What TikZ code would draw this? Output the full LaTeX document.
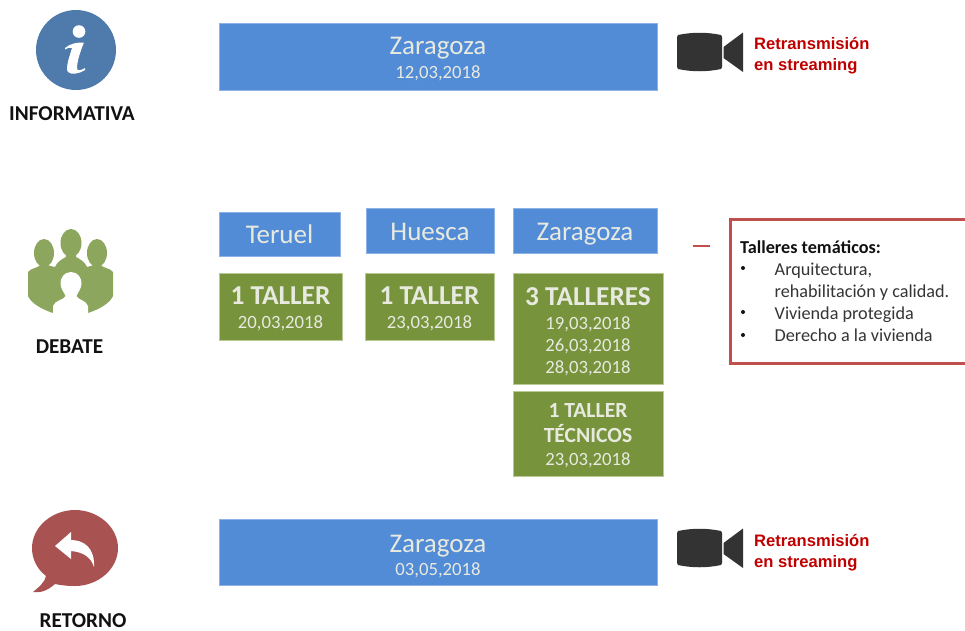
\documentclass[tikz,border=0pt]{standalone}
\usepackage{fontspec}
\setmainfont{Carlito}
\newfontfamily\armoFont{Liberation Sans}
\definecolor{boxblue}{HTML}{528BD6}
\definecolor{boxgreen}{HTML}{77933C}
\definecolor{blueedge}{HTML}{8DB3E6}
\definecolor{greenedge}{HTML}{B9C994}
\definecolor{infoblue}{HTML}{4F7BAC}
\definecolor{debgreen}{HTML}{8CA65E}
\definecolor{retred}{HTML}{A85252}
\definecolor{framered}{HTML}{C0504D}
\definecolor{camgrey}{HTML}{333333}
\definecolor{strred}{HTML}{C00000}
\definecolor{lab}{HTML}{111111}
\definecolor{boxtext}{HTML}{E8EAE0}
\newcommand{\boxfont}{\fontsize{18.7}{22}\selectfont\lineskiplimit -100pt\relax}
\tikzset{
 x=1pt,y=-1pt,
 bx/.style={anchor=north west,inner sep=0pt,outer sep=0pt,align=center,text=boxtext,line width=0.7pt,
   font=\boxfont},
 bluebox/.style={bx,fill=boxblue,draw=blueedge},
 greenbox/.style={bx,fill=boxgreen,draw=greenedge},
 catlabel/.style={font=\bfseries\fontsize{21.2}{24}\selectfont,text=lab,inner sep=0pt},
 streamlabel/.style={font=\armoFont\bfseries\fontsize{16.6}{21}\selectfont,text=strred,align=left,anchor=west,inner sep=0pt},
 dashmark/.style={draw=framered,line width=2.6pt},
}
\newcommand{\bigt}[1]{{\fontsize{27}{27}\selectfont #1}}
\newcommand{\smt}[1]{#1}
\newcommand{\hdt}[1]{{\fontsize{27.3}{27}\selectfont\bfseries #1}}
\newcommand{\hdm}[1]{{\fontsize{21.6}{25}\selectfont\bfseries #1}}
\newcommand{\pad}[1]{\rule{0pt}{#1pt}}
\newcommand{\camera}[2]{%
 \begin{scope}[shift={(#1,#2)}]
  \fill[camgrey] (0,3) .. controls (14,0) and (29,0) .. (43,3) -- (44,5) -- (44,35) -- (43,37) .. controls (29,40) and (14,40) .. (0,37) -- (-1,35) -- (-1,5) -- cycle;
  \fill[camgrey] (45.5,15) -- (65,0.5) -- (65,40) -- (45.5,26) -- cycle;
 \end{scope}}
\begin{document}
\begin{tikzpicture}
\useasboundingbox (0,0) rectangle (965,630);
\fill[white] (0,0) rectangle (965,630);
% informativa icon
\fill[infoblue] (76,50) circle (40);
\fill[white] (79,31.5) circle (6.3);
\fill[white] (65,48) .. controls (70,43.5) and (78,42) .. (84,42.5) .. controls (80,52) and (77,62) .. (77,68) .. controls (77,71) and (80,71) .. (85,68) -- (85,70) .. controls (79,74) and (71,75) .. (68,72) .. controls (65,68) and (70,55) .. (72,48) .. controls (70,47) and (67,48) .. (65,49.5) -- cycle;
\node[catlabel] (linf) at (72,114) {INFORMATIVA};
% debate icon
\fill[debgreen] (71,243) ellipse (10.5 and 14);
\fill[debgreen] (44,253) ellipse (10 and 14);
\fill[debgreen] (97,253) ellipse (10 and 14);
\fill[debgreen] (28,272) .. controls (31,268) and (38,268) .. (40.5,265) -- (39,255) -- (49,255) -- (47.5,265) .. controls (49,266) and (52,266) .. (55,267) .. controls (57,262) and (62,259) .. (66,257) -- (65,246) -- (77,246) -- (76,257) .. controls (80,259) and (85,262) .. (87,267) .. controls (90,266) and (92,266) .. (93.5,265) -- (92,255) -- (102,255) -- (100.5,265) .. controls (103,268) and (110,268) .. (113,272) -- (113,296) .. controls (110,303) and (100,309) .. (88,313) -- (53,313) .. controls (41,309) and (31,303) .. (28,296) -- cycle;
\fill[white] (71,272) .. controls (64,272) and (60.5,278) .. (60.5,283) .. controls (60.5,289) and (64,292) .. (65.5,296) .. controls (64,300) and (55,300) .. (53,306) -- (53,314) -- (88,314) -- (88,306) .. controls (86,300) and (78,300) .. (76.5,296) .. controls (78,292) and (81.5,289) .. (81.5,283) .. controls (81.5,278) and (78,272) .. (71,272) -- cycle;
\node[catlabel] (ldeb) at (69.5,347) {DEBATE};
% retorno icon
\fill[retred] (75,510) .. controls (98,510) and (118,527) .. (118,548) .. controls (118,569) and (98,586) .. (75,586) .. controls (66,586) and (60,585) .. (55,584) .. controls (48,590) and (42,593) .. (33,592) .. controls (39,587) and (45,582) .. (46,576) .. controls (37,569) and (32,559) .. (32,548) .. controls (32,527) and (52,510) .. (75,510) -- cycle;
\fill[white] (55,546) -- (71,532) -- (71,540) .. controls (84,540) and (95,548) .. (94,567) .. controls (91,557) and (83,552) .. (71,551) -- (71,559) -- cycle;
\node[catlabel] (lret) at (83,621) {RETORNO};
% blue boxes
\node[bluebox,minimum width=438pt,minimum height=67pt] (top) at (219,23) {\pad{23}\bigt{Zaragoza}\\[2pt]\smt{12,03,2018}};
\node[bluebox,minimum width=438pt,minimum height=66pt] (bot) at (219,519.5) {\pad{26}\bigt{Zaragoza}\\[1pt]\smt{03,05,2018}};
\node[bluebox,minimum width=121pt,minimum height=44pt] (ter) at (219,212) {\bigt{Teruel}};
\node[bluebox,minimum width=128pt,minimum height=45pt] (hue) at (366,208.5) {\pad{19}\bigt{Huesca}};
\node[bluebox,minimum width=144pt,minimum height=45pt] (zar) at (513,208.5) {\pad{23}\bigt{Zaragoza}};
% green boxes
\node[greenbox,minimum width=123pt,minimum height=67pt] (g1) at (219,273) {\pad{23}\hdt{1 TALLER}\\[2pt]\smt{20,03,2018}};
\node[greenbox,minimum width=129pt,minimum height=67pt] (g2) at (365,273) {\pad{23}\hdt{1 TALLER}\\[2pt]\smt{23,03,2018}};
\node[greenbox,minimum width=150pt,minimum height=111pt] (g3) at (513,273) {\pad{24}\hdt{3 TALLERES}\\[2pt]\smt{19,03,2018}\\\smt{26,03,2018}\\\smt{28,03,2018}};
\node[greenbox,minimum width=150pt,minimum height=85pt] (g4) at (513,391.5) {\pad{18}\hdm{1 TALLER}\\[3pt]\hdm{T\'ECNICOS}\\[1pt]\smt{23,03,2018}};
% cameras
\camera{678}{32}
\camera{678}{528}
\node[streamlabel] (s1) at (754,56) {Retransmisi\'on\\en streaming};
\node[streamlabel] (s2) at (754,553) {Retransmisi\'on\\en streaming};
% talleres
\coordinate (d1) at (692.5,246);
\coordinate (d2) at (710,246);
\draw[dashmark] (d1) -- (d2);
\draw[framered,line width=3pt] (967,219) -- (730,219) -- (730,363) -- (967,363);
\node[anchor=west,inner sep=0pt,font=\bfseries\fontsize{18.2}{20}\selectfont,text=lab] (tt) at (740,247) {Talleres tem\'aticos:};
\node[anchor=west,inner sep=0pt,align=left,font=\fontsize{18.2}{22}\selectfont,text=lab!85!white] (tl) at (774.5,302) {Arquitectura,\\rehabilitaci\'on y calidad.\\Vivienda protegida\\Derecho a la vivienda};
\foreach \yy in {268,312,335}
  \fill[lab] (743,\yy) circle (2);
\end{tikzpicture}
\end{document}
